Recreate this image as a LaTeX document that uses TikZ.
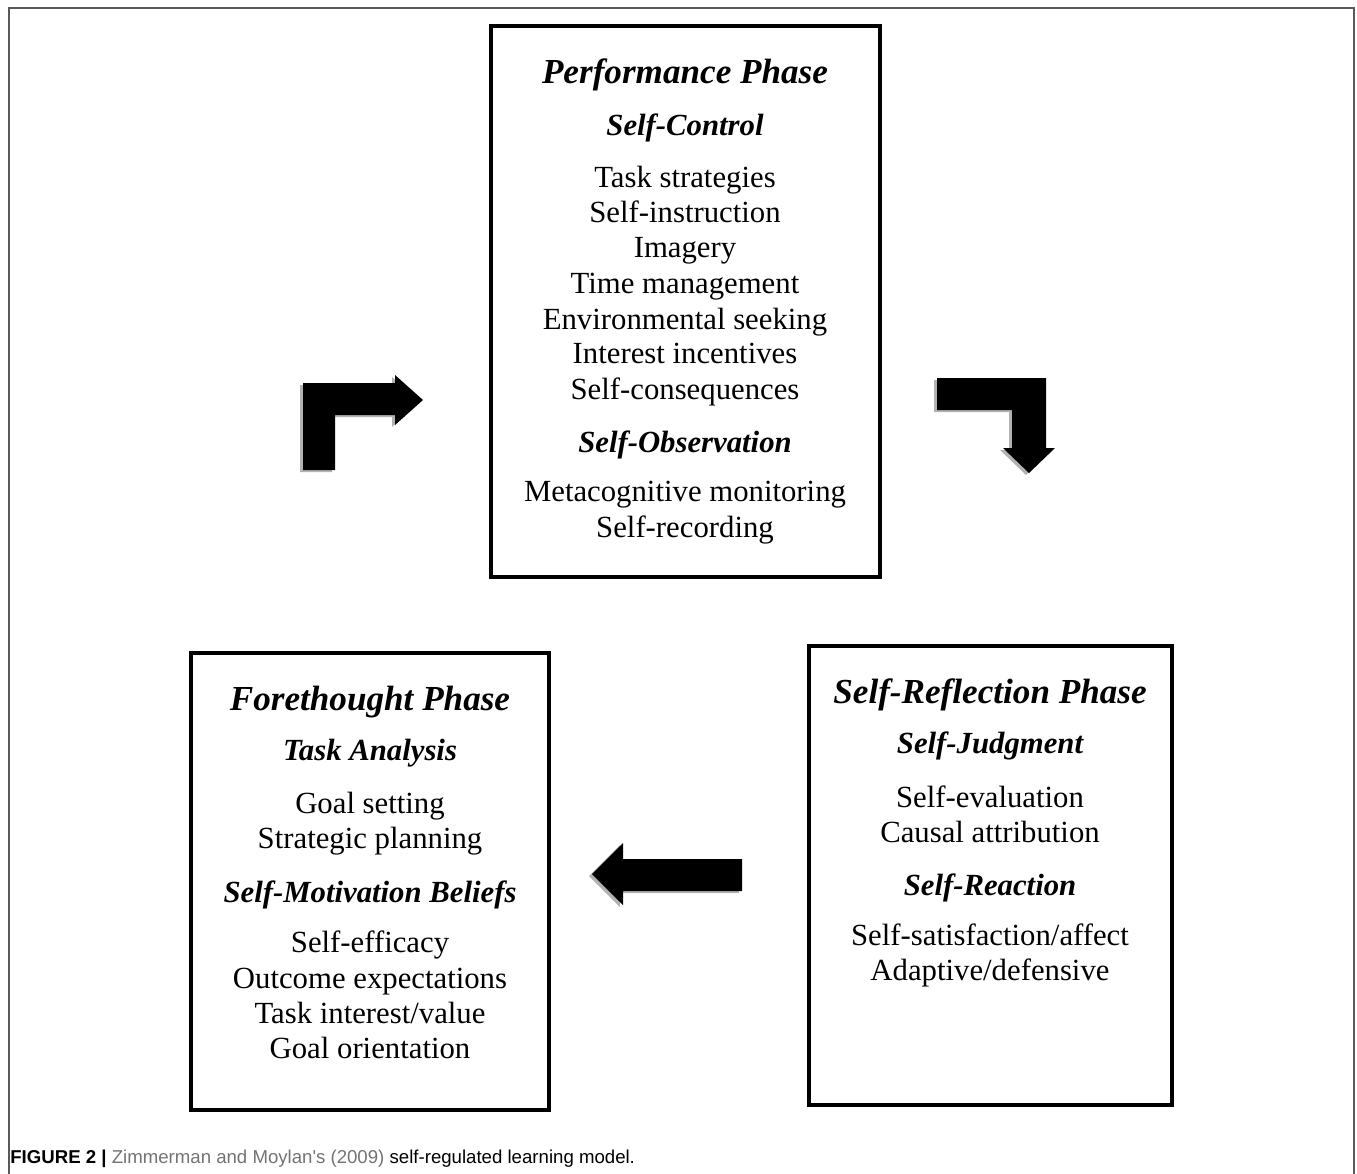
\documentclass[tikz,border=0pt]{standalone}
\usepackage{fontspec}
\setmainfont{Liberation Serif}
\newfontfamily\capfont{Liberation Sans}
\usetikzlibrary{calc,positioning}
\tikzstyle{phase} = [draw=black, line width=2pt]
\tikzstyle{heading} = [anchor=base, inner sep=0pt,
font=\fontsize{20}{20}\selectfont\bfseries\itshape]
\tikzstyle{subhead} = [anchor=base, inner sep=0pt,
font=\fontsize{17.5}{17.5}\selectfont\bfseries\itshape]
\tikzstyle{item} = [anchor=base, inner sep=0pt,
font=\fontsize{17.5}{17.5}\selectfont]
\tikzstyle{blockarrow} = [fill=black]
\tikzstyle{shadow} = [fill=black!30]
\definecolor{capgray}{gray}{0.45}

\begin{document}
\begin{tikzpicture}[x=0.02cm, y=-0.02cm]
            \useasboundingbox (0,0) rectangle (1357,1174);
            % frame of the figure, open at the bottom
            \draw [black!65, line width=0.8pt] (9,1174) -- (9,8) -- (1354,8) -- (1354,1174);

            % performance phase
            \draw [phase] (491,26) rectangle (880,577);
            \node [heading] (perf) at (685,83) {Performance Phase};
            \node [subhead] (selfctrl) at (685,135) {Self-Control};
            \node [item] (strat) at (685,187) {Task strategies};
            \node [item] (instr) at (685,222) {Self-instruction};
            \node [item] (imag) at (685,257) {Imagery};
            \node [item] (timemg) at (685,293) {Time management};
            \node [item] (envseek) at (685,329) {Environmental seeking};
            \node [item] (intinc) at (685,363) {Interest incentives};
            \node [item] (conseq) at (685,399) {Self-consequences};
            \node [subhead] (selfobs) at (685,452) {Self-Observation};
            \node [item] (metacog) at (685,501) {Metacognitive monitoring};
            \node [item] (record) at (685,537) {Self-recording};

            % forethought phase
            \draw [phase] (191,653) rectangle (549,1110);
            \node [heading] (fore) at (370,710) {Forethought Phase};
            \node [subhead] (taskan) at (370,760) {Task Analysis};
            \node [item] (goalset) at (370,813) {Goal setting};
            \node [item] (plan) at (370,848) {Strategic planning};
            \node [subhead] (motiv) at (370,902) {Self-Motivation Beliefs};
            \node [item] (effic) at (370,952) {Self-efficacy};
            \node [item] (outexp) at (370,988) {Outcome expectations};
            \node [item] (interest) at (370,1023) {Task interest/value};
            \node [item] (goalor) at (370,1058) {Goal orientation};

            % self-reflection phase
            \draw [phase] (809,646) rectangle (1172,1105);
            \node [heading] (refl) at (990,703) {Self-Reflection Phase};
            \node [subhead] (judg) at (990,753) {Self-Judgment};
            \node [item] (evalu) at (990,807) {Self-evaluation};
            \node [item] (causal) at (990,842) {Causal attribution};
            \node [subhead] (react) at (990,895) {Self-Reaction};
            \node [item] (satis) at (990,945) {Self-satisfaction/affect};
            \node [item] (adapt) at (990,980) {Adaptive/defensive};

            % bent arrow, up and right
            \fill [shadow, shift={(-3,2)}] (303,470) -- (303,383) -- (395,383) -- (395,375)
            -- (423,400) -- (395,425) -- (395,415) -- (335,415) -- (335,470) -- cycle;
            \fill [blockarrow] (303,470) -- (303,383) -- (395,383) -- (395,375)
            -- (423,400) -- (395,425) -- (395,415) -- (335,415) -- (335,470) -- cycle;
            % bent arrow, right and down
            \fill [shadow, shift={(-3,2)}] (937,378) -- (1046,378) -- (1046,448) -- (1055,448)
            -- (1029,473) -- (1003,448) -- (1012,448) -- (1012,410) -- (937,410) -- cycle;
            \fill [blockarrow] (937,378) -- (1046,378) -- (1046,448) -- (1055,448)
            -- (1029,473) -- (1003,448) -- (1012,448) -- (1012,410) -- (937,410) -- cycle;
            % arrow to the left
            \fill [shadow, shift={(-3,2)}] (742,859) -- (623,859) -- (623,843) -- (592,874)
            -- (623,905) -- (623,891) -- (742,891) -- cycle;
            \fill [blockarrow] (742,859) -- (623,859) -- (623,843) -- (592,874)
            -- (623,905) -- (623,891) -- (742,891) -- cycle;

            % caption
            \node [anchor=base west, inner sep=0pt, font=\capfont\fontsize{10.6}{10.6}\selectfont]
            (caption) at (10,1163) {\textbf{FIGURE 2 \textbar} \textcolor{capgray}{Zimmerman and Moylan's (2009)} self-regulated learning model.};
        \end{tikzpicture}
\end{document}
